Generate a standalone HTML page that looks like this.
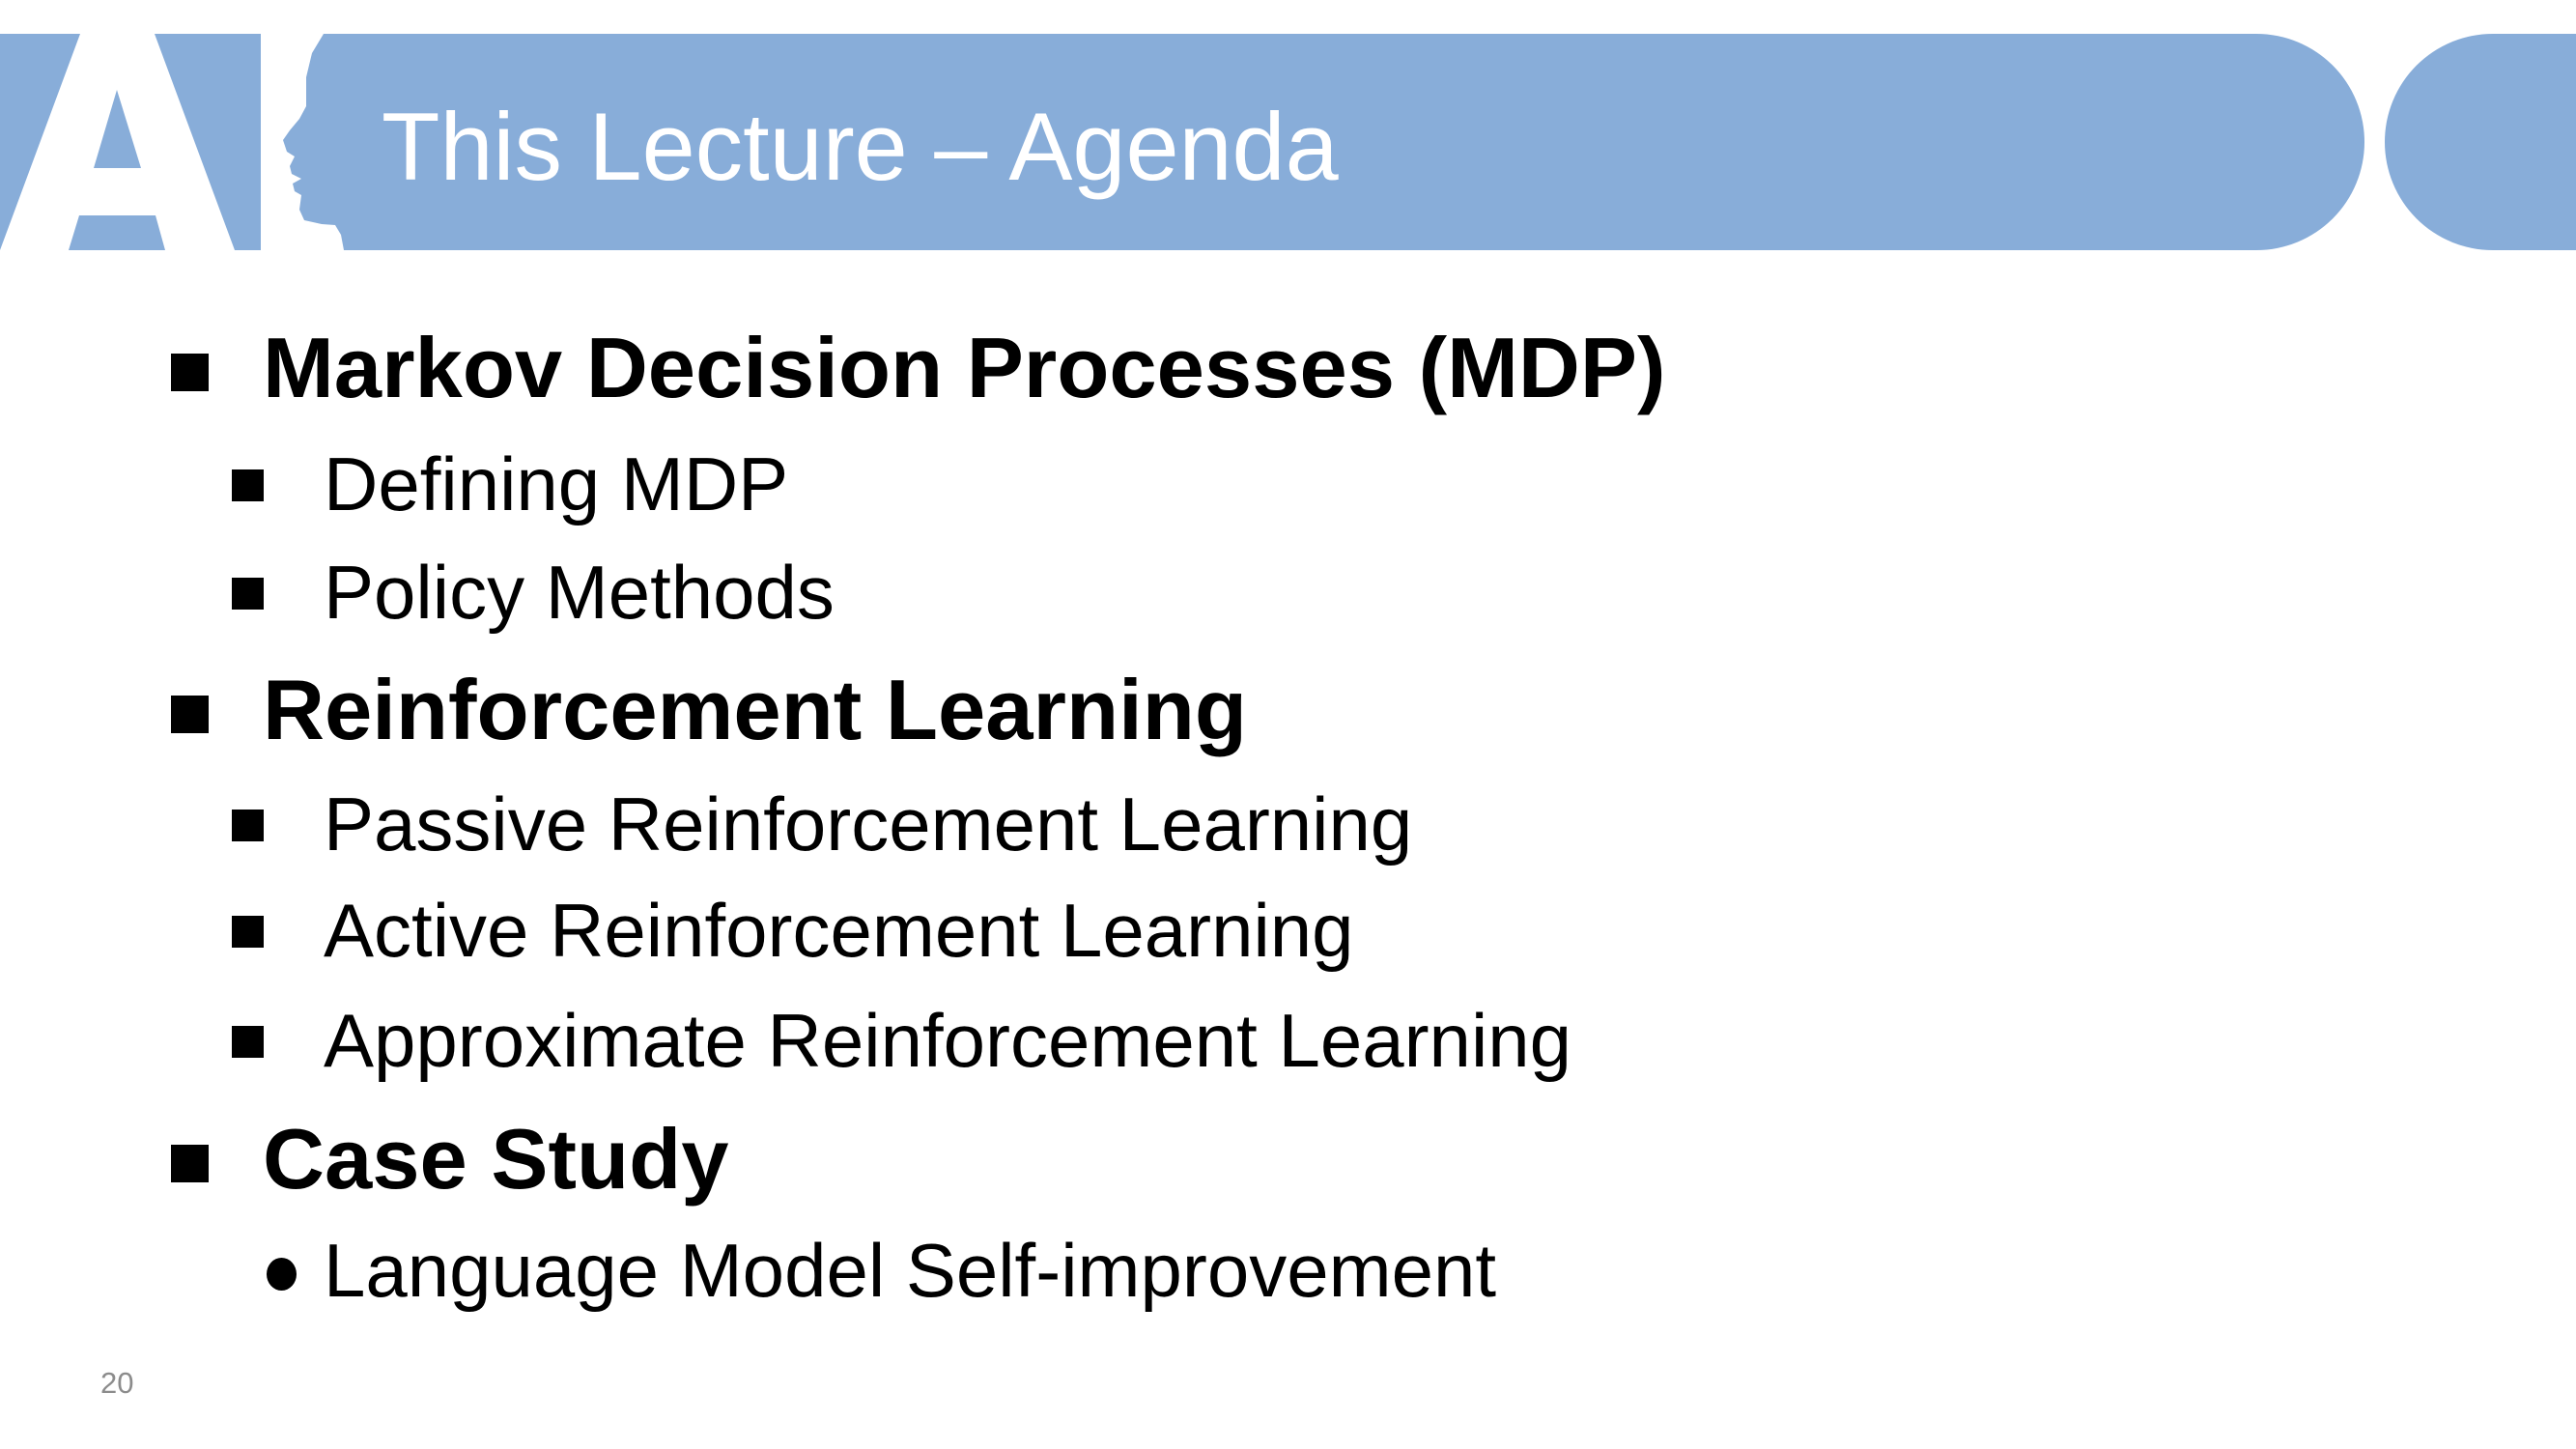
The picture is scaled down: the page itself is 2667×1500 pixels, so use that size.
<!DOCTYPE html>
<html><head><meta charset="utf-8"><style>
html,body{margin:0;padding:0;background:#fff;}
body{width:2667px;height:1500px;position:relative;overflow:hidden;font-family:"Liberation Sans",Arial,sans-serif;}
.t{position:absolute;white-space:nowrap;color:#000;line-height:1;}
.h{font-weight:bold;font-size:88.6px;left:272px;}
.s{font-size:78px;left:335px;}
.bq{position:absolute;background:#000;}
</style></head><body>
<svg width="2667" height="300" style="position:absolute;left:0;top:0">
<path d="M0 35 H2336 A112 112 0 0 1 2336 259 H0 Z" fill="#88ADD9"/>
<path d="M2667 35 H2581 A112 112 0 0 0 2581 259 H2667 Z" fill="#88ADD9"/>
<path fill="#fff" fill-rule="evenodd" d="M0 259 L83 35 L160 35 L243 259 L171 259 L161 223 L82 223 L71 259 Z M121 93 L97 174 L146 174 Z"/>
<path fill="#fff" d="M270 35 L335 35 L323 55 L317 80 L317 93 L317 110 L310 123 L300 135 L293 145 L297 157 L305 162 L300 172 L302 180 L312 185 L303 190 L305 198 L312 202 L310 217 L315 228 L333 232 L347 233 L353 243 L356 259 L270 259 Z"/>
<text x="395" y="186" fill="#fff" font-family="Liberation Sans, Arial, sans-serif" font-size="99">This Lecture – Agenda</text>
</svg>

<div class="bq" style="left:177px;top:366px;width:39px;height:39px"></div>
<div class="t h" style="top:337px">Markov Decision Processes (MDP)</div>
<div class="bq" style="left:240px;top:486px;width:33px;height:33px"></div>
<div class="t s" style="top:462px">Defining MDP</div>
<div class="bq" style="left:240px;top:598px;width:33px;height:33px"></div>
<div class="t s" style="top:574px">Policy Methods</div>

<div class="bq" style="left:177px;top:720px;width:39px;height:39px"></div>
<div class="t h" style="top:691px">Reinforcement Learning</div>
<div class="bq" style="left:240px;top:838px;width:33px;height:33px"></div>
<div class="t s" style="top:814px">Passive Reinforcement Learning</div>
<div class="bq" style="left:240px;top:948px;width:33px;height:33px"></div>
<div class="t s" style="top:924px">Active Reinforcement Learning</div>
<div class="bq" style="left:240px;top:1062px;width:33px;height:33px"></div>
<div class="t s" style="top:1038px">Approximate Reinforcement Learning</div>

<div class="bq" style="left:177px;top:1185px;width:39px;height:39px"></div>
<div class="t h" style="top:1156px">Case Study</div>
<div style="position:absolute;left:276px;top:1302px;width:31px;height:34px;border-radius:50%;background:#000"></div>
<div class="t s" style="top:1276px">Language Model Self-improvement</div>

<div class="t" style="left:104px;top:1416px;font-size:31px;color:#8c8c8c">20</div>
</body></html>
